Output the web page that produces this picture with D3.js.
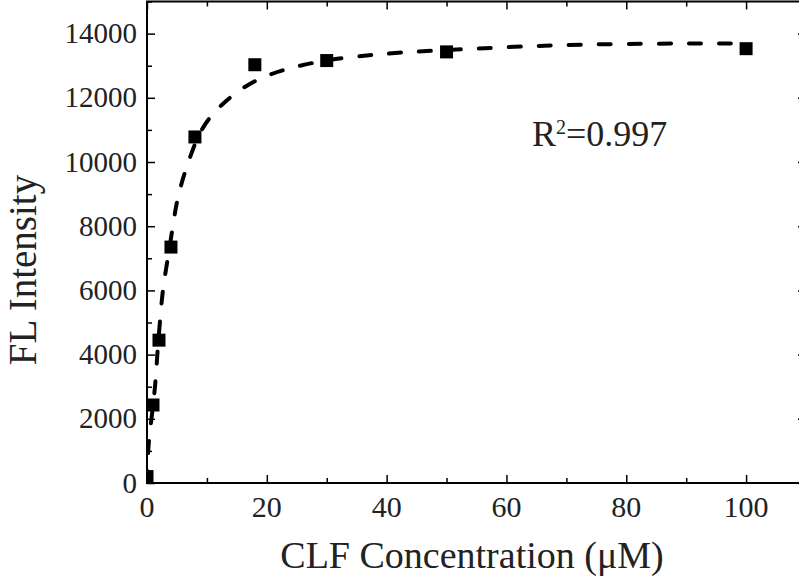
<!DOCTYPE html>
<html>
<head>
<meta charset="utf-8">
<script src="https://cdn.jsdelivr.net/npm/d3@7"></script>
<style>
  body { margin: 0; background: #fff; }
  text { font-family: 'Liberation Serif', 'Times New Roman', serif; fill: #222; }
</style>
</head>
<body>
<script>
// measured points
var conc = [0, 1, 2, 4, 8, 18, 30, 50, 100]
var intensity = [200, 2430, 4450, 7350, 10780, 13030, 13160, 13430, 13530]
// fitted curve
var fitX = [0, 0.17, 0.75, 1.42, 1.67, 2.17, 2.59, 3.34, 4.26, 5.09, 6.68, 8.85, 12.2, 17.2, 22.4, 27.4, 33.1, 38.1, 43.2, 53.8, 64.3, 79.6, 100]
var fitY = [0, 1150, 1990, 3080, 3920, 5040, 6000, 6840, 7930, 8950, 9890, 11040, 11780, 12500, 12860, 13090, 13260, 13340, 13430, 13520, 13620, 13690, 13695]
var xTicks = [0, 20, 40, 60, 80, 100]
var yTicks = [0, 2000, 4000, 6000, 8000, 10000, 12000, 14000]
var xMinor = [10, 30, 50, 70, 90, 110]
var yMinor = [1000, 3000, 5000, 7000, 9000, 11000, 13000, 15000]

var W = 799, H = 588
var pLeft = 147, pRight = 806, pTop = 1.5, pBottom = 483

var svg = d3.select('body').append('svg')
    .attr('width', W)
    .attr('height', H)

var xScale = d3.scaleLinear().domain([0, 110]).range([pLeft, pRight])
var yScale = d3.scaleLinear().domain([0, 15000]).range([pBottom, pTop])

// clip to plot box
svg.append('clipPath')
    .attr('id', 'plotclip')
  .append('rect')
    .attr('x', pLeft)
    .attr('y', pTop)
    .attr('width', pRight - pLeft)
    .attr('height', pBottom - pTop)

var plot = svg.append('g').attr('clip-path', 'url(#plotclip)')

// dashed fit line
var fit = fitX.map(function (d, i) { return [d, fitY[i]] })
var line = d3.line()
    .x(function (d) { return xScale(d[0]) })
    .y(function (d) { return yScale(d[1]) })
    .curve(d3.curveBasis)

plot.append('path')
    .datum(fit)
    .attr('d', line)
    .attr('fill', 'none')
    .attr('stroke', '#000')
    .attr('stroke-width', 4)
    .attr('stroke-linecap', 'round')
    .attr('stroke-dasharray', '12,18')

// square markers
var sz = 13
plot.selectAll('rect.pt')
    .data(conc)
    .enter()
  .append('rect')
    .attr('class', 'pt')
    .attr('x', function (d) { return xScale(d) - sz / 2 })
    .attr('y', function (d, i) { return yScale(intensity[i]) - sz / 2 })
    .attr('width', sz)
    .attr('height', sz)
    .attr('fill', '#000')

// axes: ticks all point inward
function styleAxis(g) {
  g.select('.domain').remove()
  g.selectAll('line').attr('stroke', '#000').attr('stroke-width', 1.5)
}

svg.append('g')
    .attr('transform', 'translate(0,' + pBottom + ')')
    .call(d3.axisBottom(xScale).tickValues(xTicks).tickSize(-8).tickFormat(''))
    .call(styleAxis)
svg.append('g')
    .attr('transform', 'translate(0,' + pBottom + ')')
    .call(d3.axisBottom(xScale).tickValues(xMinor).tickSize(-5).tickFormat(''))
    .call(styleAxis)
svg.append('g')
    .attr('transform', 'translate(0,' + pTop + ')')
    .call(d3.axisTop(xScale).tickValues(xTicks).tickSize(-8).tickFormat(''))
    .call(styleAxis)
svg.append('g')
    .attr('transform', 'translate(0,' + pTop + ')')
    .call(d3.axisTop(xScale).tickValues(xMinor).tickSize(-5).tickFormat(''))
    .call(styleAxis)
svg.append('g')
    .attr('transform', 'translate(' + pLeft + ',0)')
    .call(d3.axisLeft(yScale).tickValues(yTicks).tickSize(-8).tickFormat(''))
    .call(styleAxis)
svg.append('g')
    .attr('transform', 'translate(' + pLeft + ',0)')
    .call(d3.axisLeft(yScale).tickValues(yMinor).tickSize(-5).tickFormat(''))
    .call(styleAxis)
svg.append('g')
    .attr('transform', 'translate(' + pRight + ',0)')
    .call(d3.axisRight(yScale).tickValues(yTicks).tickSize(-8).tickFormat(''))
    .call(styleAxis)

// frame
svg.append('rect')
    .attr('x', pLeft)
    .attr('y', pTop)
    .attr('width', pRight - pLeft)
    .attr('height', pBottom - pTop)
    .attr('fill', 'none')
    .attr('stroke', '#000')
    .attr('stroke-width', 2)

// tick labels
svg.selectAll('text.xt')
    .data(xTicks)
    .enter()
  .append('text')
    .attr('class', 'xt')
    .attr('x', function (d) { return xScale(d) })
    .attr('y', 517)
    .style('text-anchor', 'middle')
    .style('font-size', '30px')
    .text(function (d) { return d })

svg.selectAll('text.yt')
    .data(yTicks)
    .enter()
  .append('text')
    .attr('class', 'yt')
    .attr('x', 137)
    .attr('y', function (d) { return yScale(d) })
    .attr('dy', '0.33em')
    .style('text-anchor', 'end')
    .style('font-size', '29px')
    .text(function (d) { return d })

// axis titles
svg.append('text')
    .attr('x', 472)
    .attr('y', 568)
    .style('text-anchor', 'middle')
    .style('font-size', '38px')
    .text('CLF Concentration (\u03bcM)')

svg.append('text')
    .attr('transform', 'translate(36,270) rotate(-90)')
    .style('text-anchor', 'middle')
    .style('font-size', '39px')
    .text('FL Intensity')

// R squared note
var r2 = svg.append('text')
    .attr('x', 532)
    .attr('y', 146)
    .style('font-size', '36px')
r2.append('tspan').text('R')
r2.append('tspan')
    .attr('dy', -12)
    .style('font-size', '20px')
    .text('2')
r2.append('tspan')
    .attr('dy', 12)
    .text('=0.997')
</script>
</body>
</html>
